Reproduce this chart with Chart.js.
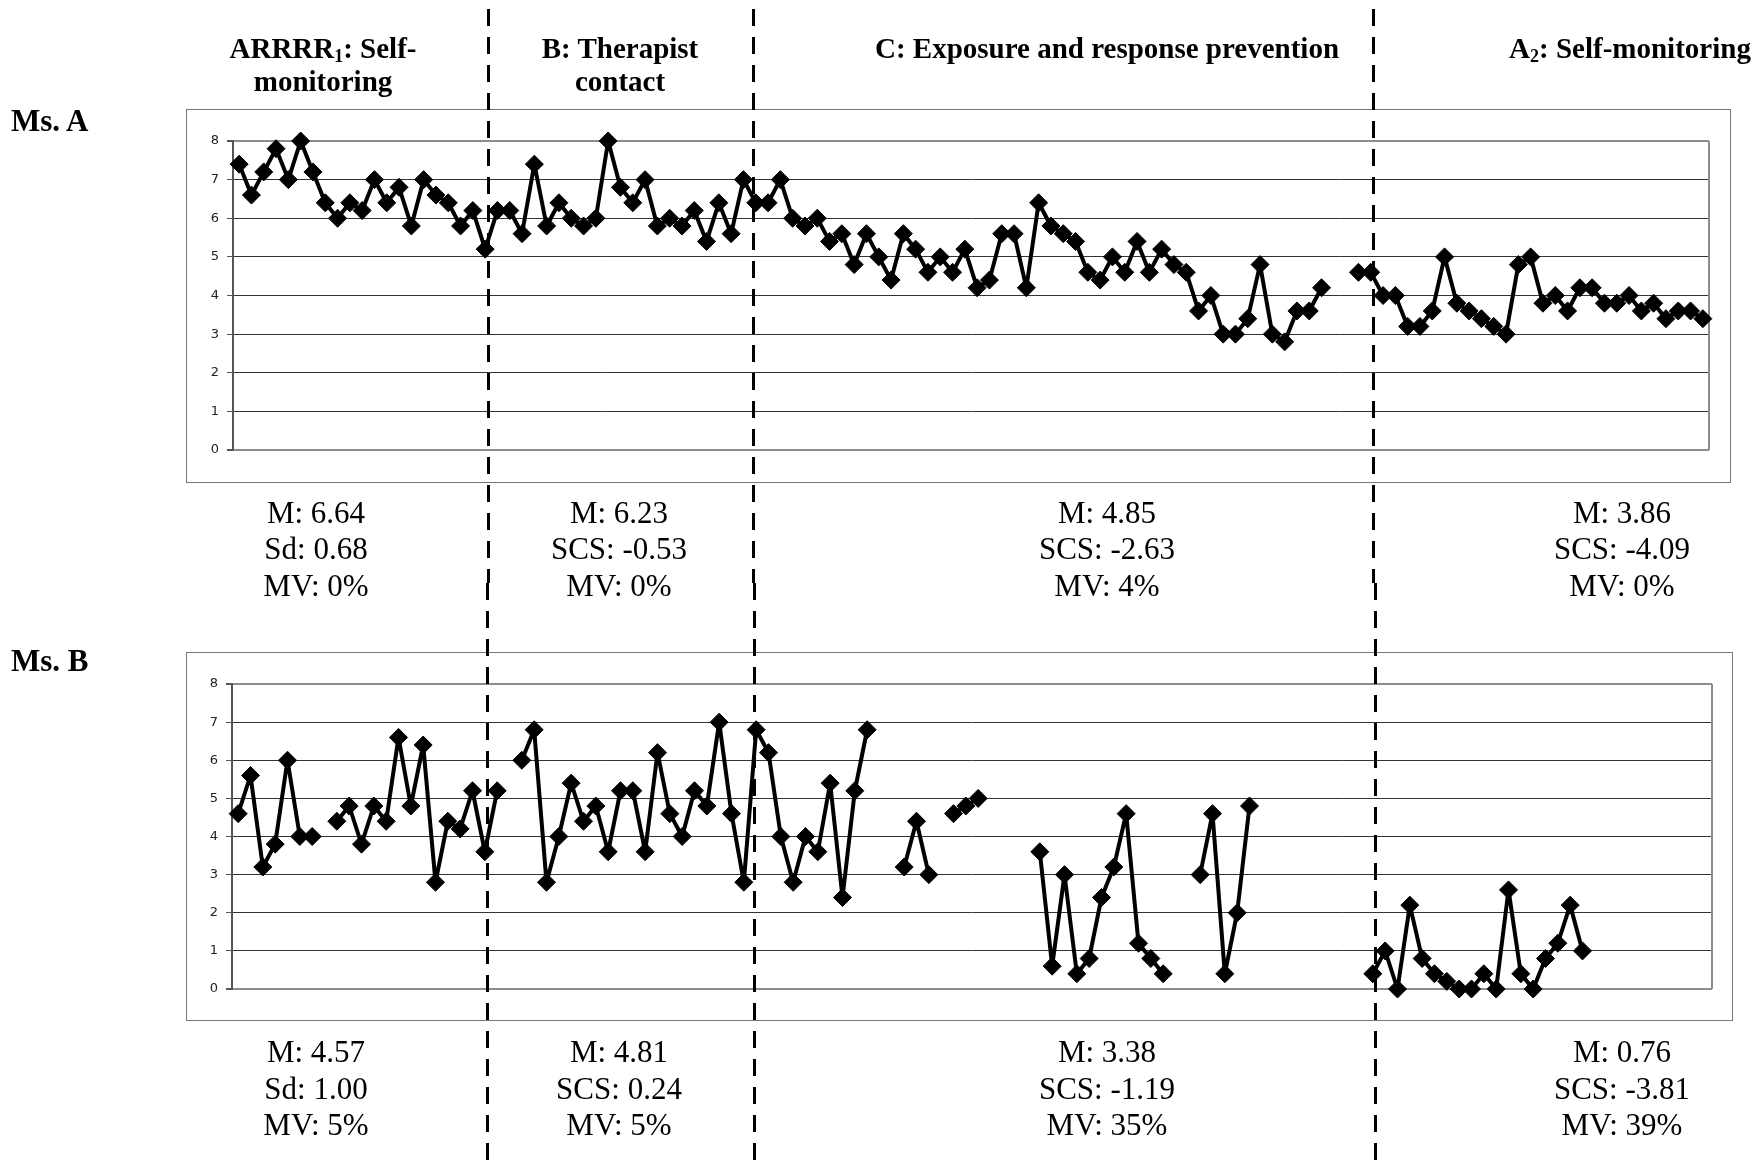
<!DOCTYPE html>
<html>
<head>
<meta charset="utf-8">
<script src="https://cdn.jsdelivr.net/npm/chart.js"></script>
<style>
  html, body { margin: 0; padding: 0; background: #fff; }
  #page { position: relative; width: 1763px; height: 1166px; overflow: hidden; }
  .frame { position: absolute; border: 1.5px solid #777; box-sizing: border-box; z-index: 0; }
  canvas { position: absolute; left: 0; z-index: 1; }
  .txt { position: absolute; z-index: 2; font-family: "Liberation Serif", "Times New Roman", serif; color: #000; white-space: nowrap; text-align: center; width: 500px; }
  .head { font-weight: bold; font-size: 29px; line-height: 32.6px; }
  .stat { font-size: 31px; line-height: 36.5px; }
  .who { font-weight: bold; font-size: 31px; line-height: 34px; text-align: left; width: auto; }
  sub { font-size: 0.62em; vertical-align: -0.22em; line-height: 0; }
</style>
</head>
<body>
<div id="page">
  <div class="frame" style="left:186px; top:109px; width:1545px; height:374px;"></div>
  <div class="frame" style="left:186px; top:652px; width:1547px; height:369px;"></div>
  <canvas id="chartA" width="1763" height="583" style="top:0px"></canvas>
  <canvas id="chartB" width="1763" height="583" style="top:583px"></canvas>
</div>
<script>
  // session numbers 1..120
  const sessions = [];
  for (let i = 1; i <= 120; i++) sessions.push(i);

  // Ms. A daily ratings (null = missing)
  const msA = [
    7.4, 6.6, 7.2, 7.8, 7.0, 8.0, 7.2, 6.4, 6.0, 6.4, 6.2, 7.0, 6.4, 6.8, 5.8, 7.0, 6.6, 6.4, 5.8, 6.2, 5.2,
    6.2, 6.2, 5.6, 7.4, 5.8, 6.4, 6.0, 5.8, 6.0, 8.0, 6.8, 6.4, 7.0, 5.8, 6.0, 5.8, 6.2, 5.4, 6.4, 5.6, 7.0,
    6.4, 6.4, 7.0, 6.0, 5.8, 6.0, 5.4, 5.6, 4.8, 5.6, 5.0, 4.4, 5.6, 5.2, 4.6, 5.0, 4.6, 5.2, 4.2, 4.4,
    5.6, 5.6, 4.2, 6.4, 5.8, 5.6, 5.4, 4.6, 4.4, 5.0, 4.6, 5.4, 4.6, 5.2, 4.8, 4.6, 3.6, 4.0, 3.0, 3.0,
    3.4, 4.8, 3.0, 2.8, 3.6, 3.6, 4.2, null, null,
    4.6, 4.6, 4.0, 4.0, 3.2, 3.2, 3.6, 5.0, 3.8, 3.6, 3.4, 3.2, 3.0, 4.8, 5.0, 3.8, 4.0, 3.6, 4.2, 4.2,
    3.8, 3.8, 4.0, 3.6, 3.8, 3.4, 3.6, 3.6, 3.4
  ];

  // Ms. B daily ratings (null = missing)
  const msB = [
    4.6, 5.6, 3.2, 3.8, 6.0, 4.0, 4.0, null, 4.4, 4.8, 3.8, 4.8, 4.4, 6.6, 4.8, 6.4, 2.8, 4.4, 4.2, 5.2, 3.6,
    5.2, null, 6.0, 6.8, 2.8, 4.0, 5.4, 4.4, 4.8, 3.6, 5.2, 5.2, 3.6, 6.2, 4.6, 4.0, 5.2, 4.8, 7.0, 4.6, 2.8,
    6.8, 6.2, 4.0, 2.8, 4.0, 3.6, 5.4, 2.4, 5.2, 6.8, null, null, 3.2, 4.4, 3.0, null, 4.6, 4.8, 5.0,
    null, null, null, null, 3.6, 0.6, 3.0, 0.4, 0.8, 2.4, 3.2, 4.6, 1.2, 0.8, 0.4, null, null,
    3.0, 4.6, 0.4, 2.0, 4.8, null, null, null, null, null, null, null, null,
    null, 0.4, 1.0, 0.0, 2.2, 0.8, 0.4, 0.2, 0.0, 0.0, 0.4, 0.0, 2.6, 0.4, 0.0, 0.8, 1.2, 2.2, 1.0,
    null, null, null, null, null, null, null, null, null, null
  ];

  const yTicks = [0, 1, 2, 3, 4, 5, 6, 7, 8];

  // where the hand-drawn phase-change lines sit, in session units (0-based)
  const phaseLinePos = [20.2, 41.8, 92.2];

  const phaseTitles = [
    "ARRRR<sub>1</sub>: Self-<br>monitoring",
    "B: Therapist<br>contact",
    "C: Exposure and response prevention",
    "A<sub>2</sub>: Self-monitoring"
  ];
  const statsA = [
    ["M: 6.64", "Sd: 0.68", "MV: 0%"],
    ["M: 6.23", "SCS: -0.53", "MV: 0%"],
    ["M: 4.85", "SCS: -2.63", "MV: 4%"],
    ["M: 3.86", "SCS: -4.09", "MV: 0%"]
  ];
  const statsB = [
    ["M: 4.57", "Sd: 1.00", "MV: 5%"],
    ["M: 4.81", "SCS: 0.24", "MV: 5%"],
    ["M: 3.38", "SCS: -1.19", "MV: 35%"],
    ["M: 0.76", "SCS: -3.81", "MV: 39%"]
  ];

  // text placement
  const page = document.getElementById("page");
  function addText(cls, cx, top, html) {
    const d = document.createElement("div");
    d.className = "txt " + cls;
    d.innerHTML = html;
    if (cx === null) { d.style.left = "11px"; } else { d.style.left = (cx - 250) + "px"; }
    d.style.top = top + "px";
    page.appendChild(d);
  }
  const titleX = [323, 620, 1107, 1630];
  const statX = [316, 619, 1107, 1622];
  phaseTitles.forEach((t, i) => addText("head", titleX[i], 32, t));
  statsA.forEach((s, i) => addText("stat", statX[i], 494.5, s.join("<br>")));
  statsB.forEach((s, i) => addText("stat", statX[i], 1034, s.join("<br>")));
  addText("who", null, 104, "Ms. A");
  addText("who", null, 644, "Ms. B");

  const phaseLines = {
    id: "phaseLines",
    beforeDatasetsDraw(chart) {
      const { ctx, chartArea: a } = chart;
      ctx.save();
      ctx.strokeStyle = "#8c8c8c";
      ctx.lineWidth = 2;
      ctx.beginPath();
      ctx.moveTo(a.right, a.top);
      ctx.lineTo(a.right, a.bottom);
      ctx.stroke();
      ctx.restore();
    },
    afterDraw(chart, args, opts) {
      const ctx = chart.ctx;
      const xs = chart.scales.x;
      ctx.save();
      ctx.strokeStyle = "#000";
      ctx.lineWidth = 3;
      ctx.setLineDash([17, 11]);
      phaseLinePos.forEach(p => {
        const px = Math.round(xs.getPixelForValue(p)) + 0.5;
        ctx.beginPath();
        ctx.moveTo(px, opts.top);
        ctx.lineTo(px, chart.height);
        ctx.stroke();
      });
      ctx.restore();
    }
  };

  function makeChart(id, values, pad, axisWidth, lineTop) {
    return new Chart(document.getElementById(id), {
      type: "line",
      data: {
        labels: sessions,
        datasets: [{
          data: values,
          borderColor: "#000",
          borderWidth: 4,
          borderJoinStyle: "round",
          pointStyle: "rectRot",
          pointRadius: 9,
          pointBackgroundColor: "#000",
          pointBorderColor: "#000",
          pointBorderWidth: 1,
          spanGaps: false,
          tension: 0,
          clip: false
        }]
      },
      options: {
        responsive: false,
        animation: false,
        layout: { padding: pad },
        plugins: {
          legend: { display: false },
          tooltip: { enabled: false },
          phaseLines: { top: lineTop }
        },
        scales: {
          x: {
            type: "category",
            display: false,
            offset: true
          },
          y: {
            min: yTicks[0],
            max: yTicks[yTicks.length - 1],
            afterFit: s => { s.width = axisWidth; },
            afterBuildTicks: s => { s.ticks = yTicks.map(v => ({ value: v })); },
            ticks: {
              padding: 8,
              color: "#222",
              font: { family: "DejaVu Sans", size: 13 }
            },
            grid: {
              color: c => (c.tick && (c.tick.value === 0 || c.tick.value === 8)) ? "#8c8c8c" : "#333",
              lineWidth: c => (c.tick && (c.tick.value === 0 || c.tick.value === 8)) ? 2 : 1,
              tickColor: "#555",
              tickLength: 6
            },
            border: { color: "#555", width: 2 }
          }
        }
      },
      plugins: [phaseLines]
    });
  }

  makeChart("chartA", msA, { left: 186, right: 54, top: 141, bottom: 133 }, 47, 9);
  makeChart("chartB", msB, { left: 186, right: 51, top: 101, bottom: 177 }, 46, 0);
</script>
</body>
</html>
